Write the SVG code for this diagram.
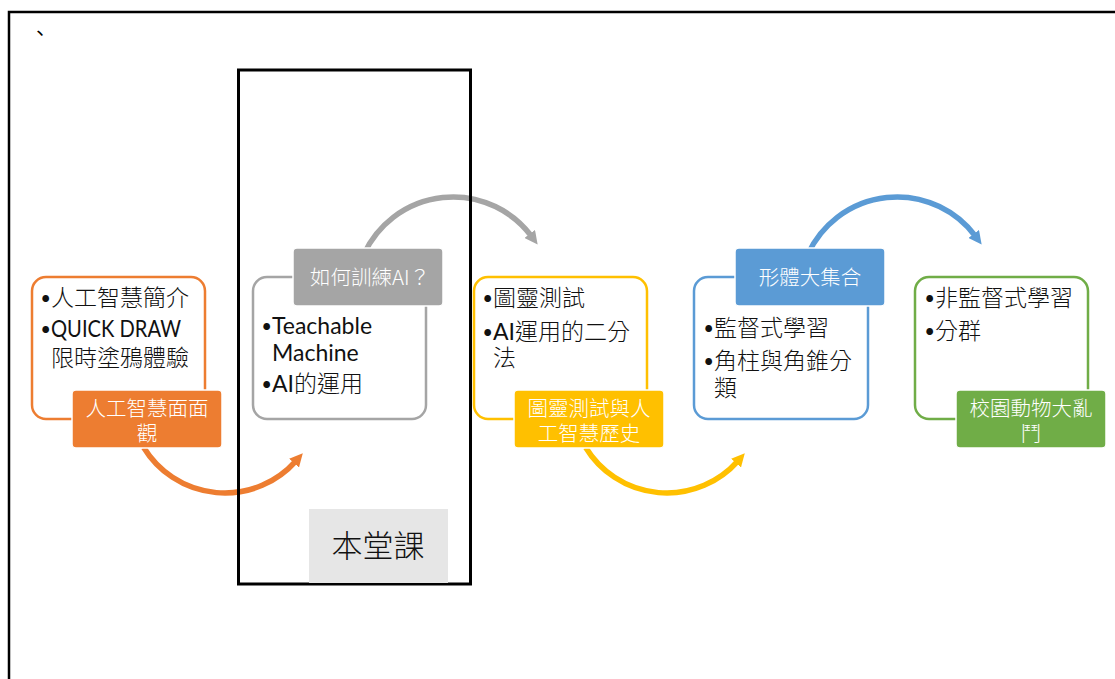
<svg xmlns="http://www.w3.org/2000/svg" width="1115" height="679" viewBox="0 0 1115 679">
<style>
.txt{font-family:Lato,"Noto Sans CJK TC",sans-serif;font-size:23px;fill:#111;font-weight:300}
.lbl{font-family:"Noto Sans CJK TC",sans-serif;font-size:20.5px;fill:#fff;text-anchor:middle;font-weight:300}
.outline{fill:#fff;stroke-width:2.5}
.lbox{stroke:#fff;stroke-width:1.5}
.arc{fill:none;stroke-width:5.5}
.lat{font-weight:400}
</style>
<defs>
<marker id="hO" viewBox="0 0 10 10" refX="2" refY="5" markerWidth="2.4" markerHeight="2.4" orient="auto" markerUnits="strokeWidth"><path d="M0,0 L10,5 L0,10 z" fill="#ED7D31"/></marker>
<marker id="hG" viewBox="0 0 10 10" refX="2" refY="5" markerWidth="2.4" markerHeight="2.4" orient="auto" markerUnits="strokeWidth"><path d="M0,0 L10,5 L0,10 z" fill="#A5A5A5"/></marker>
<marker id="hY" viewBox="0 0 10 10" refX="2" refY="5" markerWidth="2.4" markerHeight="2.4" orient="auto" markerUnits="strokeWidth"><path d="M0,0 L10,5 L0,10 z" fill="#FFC000"/></marker>
<marker id="hB" viewBox="0 0 10 10" refX="2" refY="5" markerWidth="2.4" markerHeight="2.4" orient="auto" markerUnits="strokeWidth"><path d="M0,0 L10,5 L0,10 z" fill="#5B9BD5"/></marker>
</defs>
<rect x="0" y="0" width="1115" height="679" fill="#fff"/>
<path d="M9 679 V12 H1115" fill="none" stroke="#000" stroke-width="2.5"/>
<text x="30" y="41" style="font-family:'Noto Sans CJK TC',sans-serif;font-size:20px;fill:#000">、</text>

<g id="connectors">
<path class="arc" stroke="#ED7D31" marker-end="url(#hO)" d="M143.7 447.5 A95 95 0 0 0 295.8 461.1"/>
<path class="arc" stroke="#A5A5A5" marker-end="url(#hG)" d="M364.2 253.6 A98 98 0 0 1 531.3 236"/>
<path class="arc" stroke="#FFC000" marker-end="url(#hY)" d="M585.7 447.5 A95 95 0 0 0 737.8 461.1"/>
<path class="arc" stroke="#5B9BD5" marker-end="url(#hB)" d="M808.2 253.6 A98 98 0 0 1 975.3 236"/>
</g>

<g id="node-orange">
<rect class="outline" x="32" y="277" width="173" height="142" rx="14" stroke="#ED7D31"/>
<text class="txt"><tspan x="39" y="306">•</tspan><tspan x="51" y="306">人工智慧簡介</tspan><tspan x="39" y="337">•</tspan><tspan class="lat" x="51" y="337" textLength="130" lengthAdjust="spacingAndGlyphs">QUICK DRAW</tspan><tspan x="51" y="366">限時塗鴉體驗</tspan></text>
<rect class="lbox" x="72" y="390" width="150" height="58" rx="4" fill="#ED7D31"/>
<text class="lbl"><tspan x="147" y="416">人工智慧面面</tspan><tspan x="147" y="441">觀</tspan></text>
</g>

<g id="node-gray">
<rect class="outline" x="253" y="277" width="173" height="142" rx="14" stroke="#A5A5A5"/>
<text class="txt"><tspan x="260" y="334">•</tspan><tspan class="lat" x="272" y="334">Teachable</tspan><tspan class="lat" x="272" y="361">Machine</tspan><tspan x="260" y="392">•</tspan><tspan class="lat" x="272" y="392">AI</tspan><tspan>的運用</tspan></text>
<rect class="lbox" x="293" y="248" width="150" height="58" rx="4" fill="#A5A5A5"/>
<text class="lbl" x="370" y="285">如何訓練AI？</text>
</g>

<g id="node-yellow">
<rect class="outline" x="474" y="277" width="173" height="142" rx="14" stroke="#FFC000"/>
<text class="txt"><tspan x="481" y="306">•</tspan><tspan x="493" y="306">圖靈測試</tspan><tspan x="481" y="340">•</tspan><tspan class="lat" x="493" y="340">AI</tspan><tspan>運用的二分</tspan><tspan x="493" y="366">法</tspan></text>
<rect class="lbox" x="514" y="390" width="150" height="58" rx="4" fill="#FFC000"/>
<text class="lbl"><tspan x="589" y="416">圖靈測試與人</tspan><tspan x="589" y="441">工智慧歷史</tspan></text>
</g>

<g id="node-blue">
<rect class="outline" x="694" y="277" width="174" height="142" rx="14" stroke="#5B9BD5"/>
<text class="txt"><tspan x="702" y="336">•</tspan><tspan x="714" y="336">監督式學習</tspan><tspan x="702" y="369">•</tspan><tspan x="714" y="369">角柱與角錐分</tspan><tspan x="714" y="396">類</tspan></text>
<rect class="lbox" x="735" y="248" width="150" height="58" rx="4" fill="#5B9BD5"/>
<text class="lbl" x="810" y="285">形體大集合</text>
</g>

<g id="node-green">
<rect class="outline" x="915" y="277" width="173" height="142" rx="14" stroke="#70AD47"/>
<text class="txt"><tspan x="923" y="306">•</tspan><tspan x="935" y="306">非監督式學習</tspan><tspan x="923" y="339">•</tspan><tspan x="935" y="339">分群</tspan></text>
<rect class="lbox" x="956" y="390" width="150" height="58" rx="4" fill="#70AD47"/>
<text class="lbl"><tspan x="1031" y="416">校園動物大亂</tspan><tspan x="1031" y="441">鬥</tspan></text>
</g>

<g id="this-lesson">
<rect x="238.5" y="70" width="232" height="514" fill="none" stroke="#000" stroke-width="3"/>
<rect x="309" y="509" width="139" height="74" fill="#E6E6E6"/>
<text x="378" y="557" text-anchor="middle" style="font-family:'Noto Sans CJK TC',sans-serif;font-size:31px;fill:#111;font-weight:300">本堂課</text>
</g>
</svg>
